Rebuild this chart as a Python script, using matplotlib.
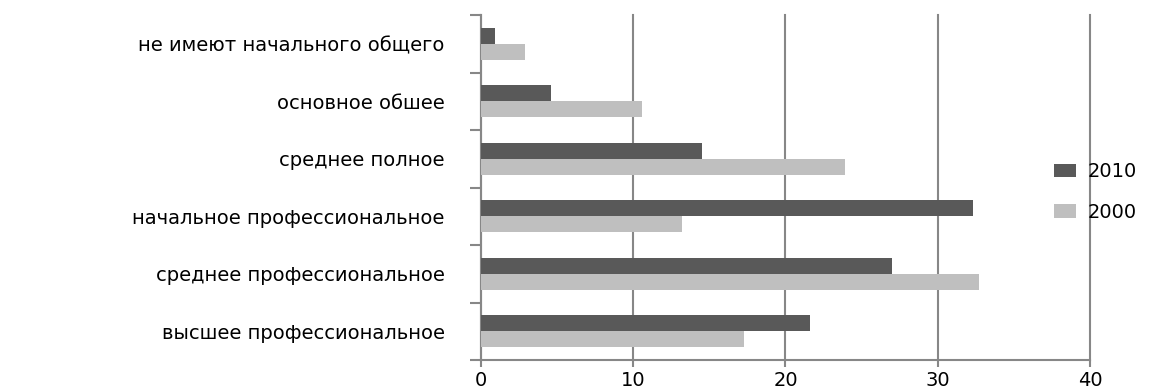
import numpy as np
import matplotlib.pyplot as plt
from matplotlib.ticker import FixedLocator

categories = ['не имеют начального общего', 'основное обшее', 'среднее полное',
              'начальное профессиональное', 'среднее профессиональное',
              'высшее профессиональное']
v2010 = [0.9, 4.6, 14.5, 32.3, 27.0, 21.6]
v2000 = [2.9, 10.6, 23.9, 13.2, 32.7, 17.3]
xticks = [0, 10, 20, 30, 40]

dark = '#595959'
light = '#bfbfbf'
grid = '#878787'

fig = plt.figure(figsize=(11.57, 3.92), dpi=100)
ax = fig.add_axes([0.4157, 0.0816, 0.5264, 0.880])

# top category first
y = np.arange(len(categories))[::-1]
h = 0.28
ax.barh(y + h / 2, v2010, height=h, color=dark, label='2010', zorder=3)
ax.barh(y - h / 2, v2000, height=h, color=light, label='2000', zorder=3)

ax.set_xlim(0, 40)
ax.set_ylim(-0.5, len(categories) - 0.5)
ax.set_xticks(xticks)
ax.set_xticklabels([str(t) for t in xticks], fontsize=14)
ax.set_yticks(y)
ax.set_yticklabels(categories, fontsize=14)
ax.yaxis.set_minor_locator(FixedLocator(np.arange(-0.5, len(categories), 1.0)))
ax.tick_params(axis='y', which='major', length=0, pad=26)
ax.tick_params(axis='y', which='minor', length=8, width=1.5, color=grid, direction='out')
ax.tick_params(axis='x', length=5, width=1.5, color=grid, pad=3)

ax.grid(axis='x', color=grid, linewidth=1.5, zorder=0)
for line in ax.get_xgridlines():
    line.set_clip_on(False)
ax.set_axisbelow(True)
for s in ['top', 'right']:
    ax.spines[s].set_visible(False)
for s in ['left', 'bottom']:
    ax.spines[s].set_color(grid)
    ax.spines[s].set_linewidth(1.5)

fig.legend(loc='center left', bbox_to_anchor=(0.896, 0.51), frameon=False,
           fontsize=14, handlelength=1.1, handleheight=0.7, labelspacing=1.1,
           handletextpad=0.6)

fig.savefig('out.png', dpi=100)
